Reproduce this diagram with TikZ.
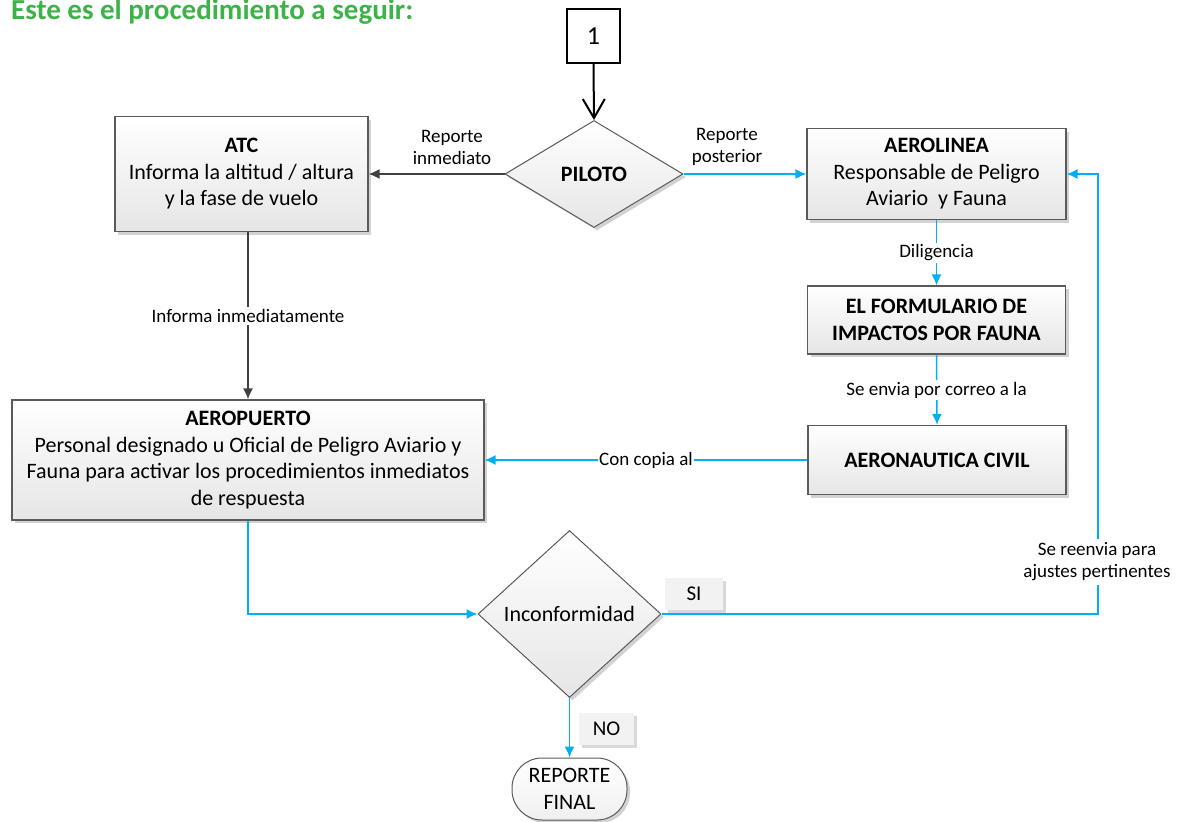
\documentclass[tikz,border=0pt]{standalone}
\usepackage{fontspec}
\setmainfont{Carlito}
\usetikzlibrary{arrows.meta,shapes.geometric,shadows}
\definecolor{lblue}{RGB}{0,176,240}
\definecolor{dgray}{RGB}{64,64,64}
\definecolor{bord}{RGB}{90,90,90}
\definecolor{ttl}{RGB}{61,178,72}
\definecolor{tagfill}{RGB}{242,242,242}
\tikzset{
  body/.style={font=\fontsize{22}{26.5}\selectfont},
  lbl/.style={font=\fontsize{19}{22}\selectfont},
  shd/.style={drop shadow={shadow xshift=3pt,shadow yshift=-3pt,fill=black!35,opacity=0.5}},
  procbox/.style={draw=bord, line width=1.2pt, top color=white, bottom color=black!10,
    shd, align=center, inner sep=0pt, body},
  decbox/.style={diamond, draw=bord, line width=1pt, top color=white, bottom color=black!10,
    shd, align=center, inner sep=0pt, body},
  termbox/.style={draw=bord, line width=1pt, top color=white, bottom color=black!6,
    rounded corners=30pt, shd, align=center, inner sep=0pt, body},
  tagbox/.style={fill=tagfill, drop shadow={shadow xshift=3pt,shadow yshift=-3pt,fill=black!25,opacity=0.6},
    inner sep=0pt, font=\fontsize{21}{25}\selectfont},
  barrow/.style={draw=lblue, line width=1.5pt, -{Latex[length=11pt,width=10pt]}},
  garrow/.style={draw=dgray, line width=1.5pt, -{Latex[length=11pt,width=10pt]}},
  onlbl/.style={fill=white, inner sep=2pt, align=center, lbl},
  freelbl/.style={inner sep=0pt, align=center, lbl}
}
\begin{document}
\begin{tikzpicture}[x=1pt,y=-1pt]
\useasboundingbox (0,0) rectangle (1179,822);

% title
\node[anchor=base west, inner sep=0pt, text=ttl, font=\bfseries\fontsize{29}{34}\selectfont] (title) at (11,19.5) {Este es el procedimiento a seguir:};

% nodes
\node[draw=black, line width=1.5pt, fill=white, minimum width=53pt, minimum height=54pt, inner sep=0pt, font=\fontsize{26}{30}\selectfont] (one) at (593.5,36) {1};
\node[decbox, minimum width=178pt, minimum height=107pt] (pil) at (594,174) {\bfseries PILOTO};
\node[procbox, minimum width=253pt, minimum height=115pt] (atc) at (241.5,174) {\textbf{ATC}\\Informa la altitud / altura\\y la fase de vuelo};
\node[procbox, minimum width=259pt, minimum height=91pt] (aer) at (936.5,174) {\textbf{AEROLINEA}\\Responsable de Peligro\\Aviario\ \ y Fauna};
\node[procbox, minimum width=258pt, minimum height=68pt, font=\bfseries\fontsize{22}{27}\selectfont] (form) at (936.5,320) {EL FORMULARIO DE\\IMPACTOS POR FAUNA};
\node[procbox, minimum width=258pt, minimum height=69pt, font=\bfseries\fontsize{22}{27}\selectfont] (aerc) at (937,460) {AERONAUTICA CIVIL};
\node[procbox, minimum width=472pt, minimum height=120pt] (apt) at (248,460) {\textbf{AEROPUERTO}\\Personal designado u Oficial de Peligro Aviario y\\Fauna para activar los procedimientos inmediatos\\de respuesta};
\node[decbox, minimum width=183pt, minimum height=167pt] (inc) at (569.5,614) {Inconformidad};
\node[termbox, minimum width=115pt, minimum height=62pt] (fin) at (569.5,789) {REPORTE\\FINAL};
\node[tagbox, minimum width=58pt, minimum height=32pt] (si) at (694,594) {SI};
\node[tagbox, minimum width=55pt, minimum height=32pt] (no) at (606.5,729) {NO};

\coordinate (turn) at (1098,0);

% connectors
\draw[draw=black, line width=2pt, -{Straight Barb[length=19pt,width=22pt,line width=2pt]}] (one.south) -- (pil.north);
\draw[garrow] (pil.west) -- (atc.east);
\draw[barrow] (pil.east) -- (aer.west);
\draw[garrow] (apt.north |- atc.south) -- (apt.north);
\draw[barrow] (aer.south) -- (form.north);
\draw[barrow] (form.south) -- (aerc.north);
\draw[barrow] (aerc.west) -- (apt.east);
\draw[barrow] (apt.south) |- (inc.west);
\draw[barrow] (inc.east) -| (turn |- aer.east) -- (aer.east);
\draw[barrow] (inc.south) -- (fin.north);

% labels
\node[freelbl] (l1) at (452,147) {Reporte\\inmediato};
\node[freelbl] (l2) at (727,147) {Reporte\\posterior};
\node[onlbl] (l3) at (248,316) {Informa inmediatamente};
\node[onlbl] (l4) at (936.5,253) {Diligencia};
\node[onlbl] (l5) at (936.5,390) {Se envia por correo a la};
\node[onlbl, inner xsep=1pt] (l6) at (646,460) {Con copia al};
\node[onlbl, inner ysep=4pt] (l7) at (1097,562) {Se reenvia para\\ajustes pertinentes};
\end{tikzpicture}
\end{document}
